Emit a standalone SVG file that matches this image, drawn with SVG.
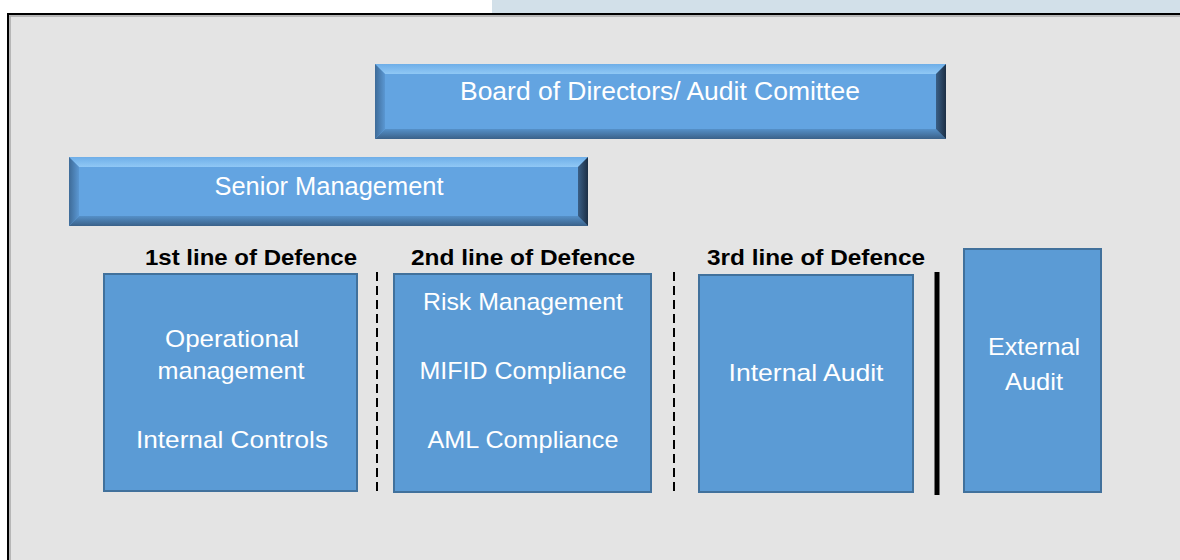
<svg xmlns="http://www.w3.org/2000/svg" width="1180" height="560" viewBox="0 0 1180 560">
<defs>
<linearGradient id="topBevel" x1="0" y1="0" x2="0" y2="1">
<stop offset="0" stop-color="#6EAEE8"/><stop offset="1" stop-color="#90C8F5"/>
</linearGradient>
<linearGradient id="botBevel" x1="0" y1="0" x2="0" y2="1">
<stop offset="0" stop-color="#5590C8"/><stop offset="1" stop-color="#3A6189"/>
</linearGradient>
<linearGradient id="leftBevel" x1="0" y1="0" x2="1" y2="0">
<stop offset="0" stop-color="#3E6B98"/><stop offset="1" stop-color="#5A97D2"/>
</linearGradient>
<linearGradient id="rightBevel" x1="0" y1="0" x2="1" y2="0">
<stop offset="0" stop-color="#3A5F86"/><stop offset="1" stop-color="#1C2F45"/>
</linearGradient>
</defs>
<style>
.face{fill:#63A4E1}
.box{fill:#5B9BD5;stroke:#41719C;stroke-width:2}
.t{font-family:"Liberation Sans",Arial,sans-serif;fill:#FFFFFF;text-anchor:middle}
.big{font-size:25px}
.in{font-size:24px}
.h{font-family:"Liberation Sans",Arial,sans-serif;font-weight:bold;font-size:22px;fill:#000;text-anchor:middle}
.dash{stroke:#000;stroke-width:2;stroke-dasharray:9,5;fill:none}
.solid{stroke:#000;stroke-width:5;fill:none}
</style>
<rect x="0" y="0" width="1180" height="560" fill="#FFFFFF"/>
<rect x="492" y="0" width="688" height="14" fill="#D2E0E9"/>
<rect x="7" y="13" width="1173" height="547" fill="#E4E4E4"/>
<line x1="7" y1="14" x2="1180" y2="14" stroke="#000" stroke-width="2"/>
<line x1="9" y1="16" x2="1180" y2="16" stroke="#A8A8A8" stroke-width="1.5"/>
<line x1="8" y1="13" x2="8" y2="560" stroke="#000" stroke-width="2"/>
<line x1="10" y1="16" x2="10" y2="560" stroke="#A8A8A8" stroke-width="1.5"/>

<g id="board">
<rect class="face" x="375" y="64" width="571" height="75"/>
<polygon points="375,64 946,64 936,74 385,74" fill="url(#topBevel)"/>
<polygon points="375,139 946,139 936,129 385,129" fill="url(#botBevel)"/>
<polygon points="375,64 385,74 385,129 375,139" fill="url(#leftBevel)"/>
<polygon points="946,64 936,74 936,129 946,139" fill="url(#rightBevel)"/>
<text class="t big" x="660" y="100" textLength="400" lengthAdjust="spacingAndGlyphs">Board of Directors/ Audit  Comittee</text>
</g>

<g id="senior">
<rect class="face" x="69" y="157" width="519" height="69"/>
<polygon points="69,157 588,157 578,167 79,167" fill="url(#topBevel)"/>
<polygon points="69,226 588,226 578,216 79,216" fill="url(#botBevel)"/>
<polygon points="69,157 79,167 79,216 69,226" fill="url(#leftBevel)"/>
<polygon points="588,157 578,167 578,216 588,226" fill="url(#rightBevel)"/>
<text class="t big" x="329" y="195" textLength="229" lengthAdjust="spacingAndGlyphs">Senior Management</text>
</g>

<g id="first-line">
<text class="h" x="251" y="265" textLength="212" lengthAdjust="spacingAndGlyphs">1st line of Defence</text>
<rect class="box" x="104" y="274" width="253" height="217"/>
<text class="t in" x="232" y="347" textLength="134" lengthAdjust="spacingAndGlyphs">Operational</text>
<text class="t in" x="231" y="379" textLength="147" lengthAdjust="spacingAndGlyphs">management</text>
<text class="t in" x="232" y="448" textLength="192" lengthAdjust="spacingAndGlyphs">Internal Controls</text>
</g>

<g id="second-line">
<text class="h" x="523" y="265" textLength="224" lengthAdjust="spacingAndGlyphs">2nd line of Defence</text>
<rect class="box" x="394" y="274" width="257" height="218"/>
<text class="t in" x="523" y="310" textLength="200" lengthAdjust="spacingAndGlyphs">Risk Management</text>
<text class="t in" x="523" y="379" textLength="207" lengthAdjust="spacingAndGlyphs">MIFID Compliance</text>
<text class="t in" x="523" y="448" textLength="191" lengthAdjust="spacingAndGlyphs">AML Compliance</text>
</g>

<g id="third-line">
<text class="h" x="816" y="265" textLength="218" lengthAdjust="spacingAndGlyphs">3rd line of Defence</text>
<rect class="box" x="699" y="275" width="214" height="217"/>
<text class="t in" x="806" y="381" textLength="155" lengthAdjust="spacingAndGlyphs">Internal Audit</text>
</g>

<g id="external">
<rect class="box" x="964" y="249" width="137" height="243"/>
<text class="t in" x="1034" y="355" textLength="92" lengthAdjust="spacingAndGlyphs">External</text>
<text class="t in" x="1034" y="390" textLength="58" lengthAdjust="spacingAndGlyphs">Audit</text>
</g>

<g id="connectors">
<line class="dash" x1="377" y1="272" x2="377" y2="496"/>
<line class="dash" x1="674" y1="272" x2="674" y2="496"/>
<line class="solid" x1="937" y1="272" x2="937" y2="495"/>
</g>
</svg>
